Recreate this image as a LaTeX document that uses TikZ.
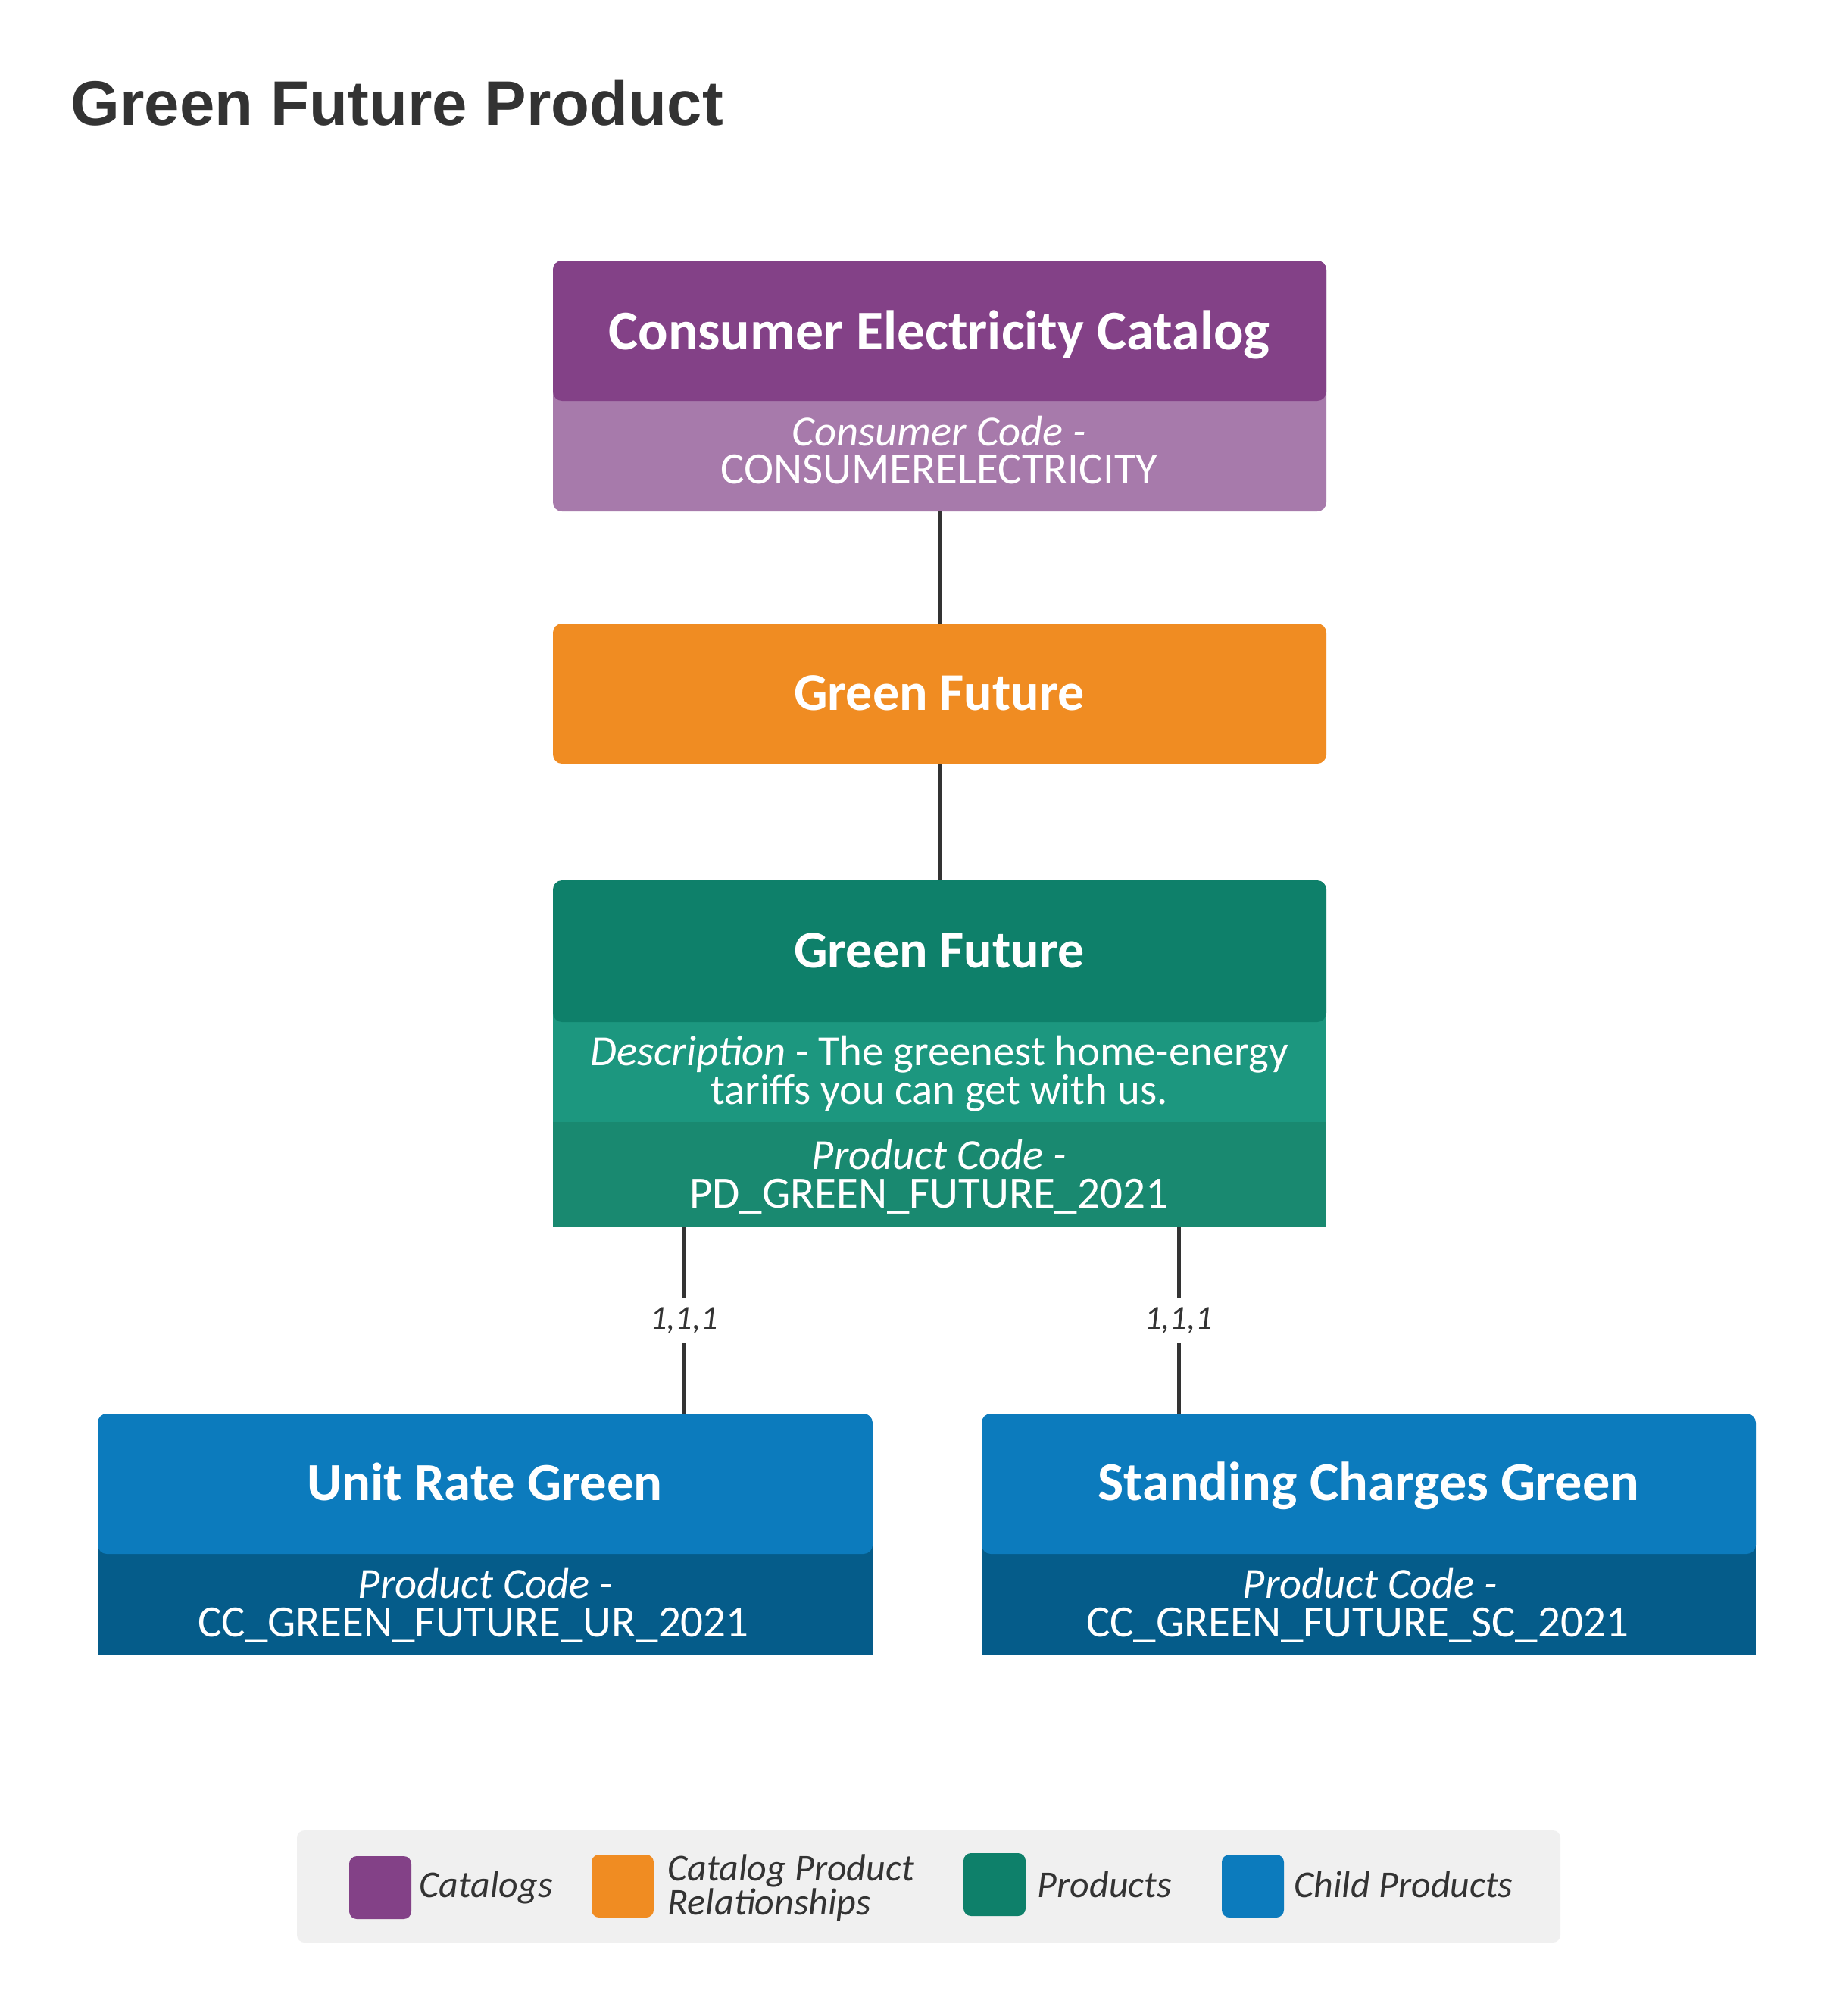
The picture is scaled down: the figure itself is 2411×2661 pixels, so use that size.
\documentclass[tikz,border=0pt]{standalone}
\usepackage{fontspec}
\setmainfont{Carlito}
\newfontfamily\headfont{Liberation Sans}
\newcommand\pxu{0.3pt}
\definecolor{catH}{HTML}{834187}
\definecolor{catB}{HTML}{A77AAB}
\definecolor{relC}{HTML}{F08C22}
\definecolor{prodH}{HTML}{0E806A}
\definecolor{prodD}{HTML}{1C977F}
\definecolor{prodK}{HTML}{198970}
\definecolor{childH}{HTML}{0C7BBD}
\definecolor{childB}{HTML}{055C8A}
\definecolor{lineC}{HTML}{333333}
\definecolor{legBg}{HTML}{F0F0F0}
\definecolor{titleC}{HTML}{333333}
\begin{document}
\begin{tikzpicture}[x=0.3pt,y=-0.3pt,
  base/.style={inner sep=0pt, outer sep=0pt, draw=none},
  bx/.style={base, rectangle, anchor=north west},
  hdr/.style={bx, rounded corners=3.6pt},
  wide/.style={minimum width=1021*\pxu},
  ttl/.style={inner sep=0pt, anchor=base, text=white, font=\bfseries\fontsize{21.2}{25}\selectfont},
  txt/.style={inner sep=0pt, anchor=base, text=white, font=\fontsize{17}{20}\selectfont},
  code/.style={txt, font=\fontsize{17.7}{20}\selectfont},
  conn/.style={draw=lineC, line width=1.5pt},
  lbl/.style={fill=white, inner xsep=1pt, inner ysep=4pt, text=lineC, font=\itshape\fontsize{13.3}{15}\selectfont},
  leg/.style={inner sep=0pt, anchor=base west, text=lineC, font=\itshape\fontsize{15}{18}\selectfont},
  sw/.style={bx, rounded corners=3pt, minimum width=82*\pxu, minimum height=83*\pxu}]
\useasboundingbox[fill=white] (0,0) rectangle (2411,2661);

% title
\node[anchor=base west, inner sep=0pt, text=titleC, font=\headfont\bfseries\fontsize{25}{30}\selectfont] (title) at (93,165) {Green Future Product};

% catalog
\node[hdr, wide, fill=catB, minimum height=331*\pxu] (cat) at (730,344) {};
\node[hdr, wide, fill=catH, minimum height=185*\pxu] (catH) at (730,344) {};
\node[ttl, font=\bfseries\fontsize{22.1}{25}\selectfont] (catT) at (1240,461) {Consumer Electricity Catalog};
\node[txt] (catC1) at (1240,588) {\itshape Consumer Code -};
\node[code] (catC2) at (1240,638) {CONSUMERELECTRICITY};

% catalog product relationship
\node[hdr, wide, fill=relC, minimum height=185*\pxu] (rel) at (730,823) {};
\node[ttl, font=\bfseries\fontsize{21}{25}\selectfont] (relT) at (1240,937) {Green Future};

% product
\node[bx, wide, fill=prodK, minimum height=139*\pxu] (prodC) at (730,1481) {};
\node[bx, wide, fill=prodD, minimum height=161*\pxu] (prodD) at (730,1320) {};
\node[hdr, wide, fill=prodH, minimum height=187*\pxu] (prodH) at (730,1162) {};
\node[ttl, font=\bfseries\fontsize{21}{25}\selectfont] (prodT) at (1240,1277) {Green Future};
\node[txt] (prodD1) at (1240,1406) {\textit{Description} - The greenest home-energy};
\node[txt] (prodD2) at (1240,1457) {tariffs you can get with us.};
\node[txt] (prodC1) at (1240,1543) {\itshape Product Code -};
\node[code] (prodC2) at (1226,1594) {PD\_GREEN\_FUTURE\_2021};

% child products
\node[bx, fill=childB, minimum width=1023*\pxu, minimum height=164*\pxu] (urB) at (129,2020) {};
\node[hdr, fill=childH, minimum width=1023*\pxu, minimum height=185*\pxu] (ur) at (129,1866) {};
\node[ttl] (urT) at (640,1980) {Unit Rate Green};
\node[txt] (urC1) at (641,2109) {\itshape Product Code -};
\node[code] (urC2) at (625,2160) {CC\_GREEN\_FUTURE\_UR\_2021};

\node[bx, fill=childB, minimum width=1022*\pxu, minimum height=164*\pxu] (scB) at (1296,2020) {};
\node[hdr, fill=childH, minimum width=1022*\pxu, minimum height=185*\pxu] (sc) at (1296,1866) {};
\node[ttl, font=\bfseries\fontsize{21.7}{25}\selectfont] (scT) at (1807,1980) {Standing Charges Green};
\node[txt] (scC1) at (1809,2109) {\itshape Product Code -};
\node[code] (scC2) at (1792,2160) {CC\_GREEN\_FUTURE\_SC\_2021};

% connectors
\draw[conn] (cat.south) -- (rel.north);
\draw[conn] (rel.south) -- (prodH.north);
\path (prodC.south west) ++(173,0) coordinate (p1);
\path (prodC.south west) ++(826,0) coordinate (p2);
\draw[conn] (p1) -- node[lbl] (lab1) {1,1,1} (p1 |- ur.north);
\draw[conn] (p2) -- node[lbl] (lab2) {1,1,1} (p2 |- sc.north);

% legend
\node[bx, fill=legBg, rounded corners=3pt, minimum width=1668*\pxu, minimum height=148*\pxu] (legend) at (392,2416) {};
\node[sw, fill=catH] (sw1) at (461,2450) {};
\node[sw, fill=relC] (sw2) at (781,2448) {};
\node[sw, fill=prodH] (sw3) at (1272,2446) {};
\node[sw, fill=childH] (sw4) at (1613,2448) {};
\node[leg] (l1) at (553,2504) {Catalogs};
\node[leg] (l2a) at (881,2482) {Catalog Product};
\node[leg] (l2b) at (881,2527) {Relationships};
\node[leg] (l3) at (1369,2504) {Products};
\node[leg] (l4) at (1708,2504) {Child Products};
\end{tikzpicture}
\end{document}
